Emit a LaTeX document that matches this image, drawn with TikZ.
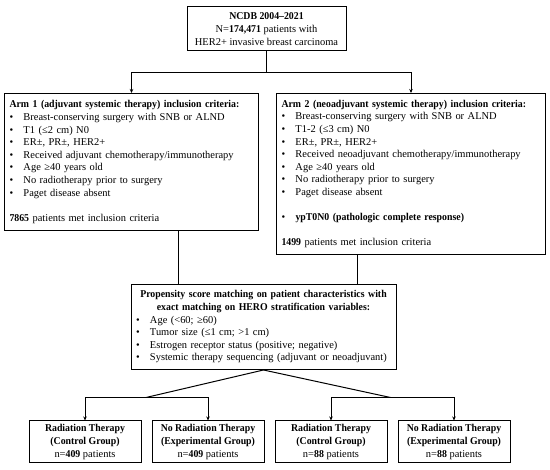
\documentclass[tikz,border=0pt]{standalone}
\usepackage{fontspec}
\setmainfont{Liberation Serif}[BoldFeatures={FakeStretch=0.94}]
\usepackage{tikz}
\usetikzlibrary{positioning,arrows.meta}

\newcommand{\bul}{\makebox[14pt][l]{\textbullet}}

\begin{document}
\begin{tikzpicture}[x=1pt, y=-1pt,
    box/.style={rectangle, draw, line width=1pt, inner ysep=0pt, inner xsep=5pt, font=\fontsize{10.45}{12.6}\selectfont},
    crit/.style={box, text width=#1, align=left},
    group/.style={box, minimum width=112pt, minimum height=42pt, align=center},
    line/.style={line width=1pt},
    arrow/.style={line, -{Stealth[length=4pt,width=3.5pt]}}]

    \useasboundingbox (0,0) rectangle (550,470);

    \node [box, minimum width=159pt, minimum height=44pt, align=center] (ncdb) at (266.5,29)
        {\textbf{NCDB 2004–2021}\\N=\textbf{174,471} patients with\\HER2+ invasive breast carcinoma};

    \node [crit=244pt, minimum height=137pt, anchor=north west] (arm1) at (4,93)
        {\textbf{Arm 1 (adjuvant systemic therapy) inclusion criteria:}\\
         \bul Breast-conserving surgery with SNB or ALND\\
         \bul T1 (≤2 cm) N0\\
         \bul ER±, PR±, HER2+\\
         \bul Received adjuvant chemotherapy/immunotherapy\\
         \bul Age ≥40 years old\\
         \bul No radiotherapy prior to surgery\\
         \bul Paget disease absent\\[12.6pt]
         \textbf{7865} patients met inclusion criteria};
    \node [crit=259pt, minimum height=161pt, right=17pt of arm1.north east, anchor=north west] (arm2)
        {\textbf{Arm 2 (neoadjuvant systemic therapy) inclusion criteria:}\\
         \bul Breast-conserving surgery with SNB or ALND\\
         \bul T1-2 (≤3 cm) N0\\
         \bul ER±, PR±, HER2+\\
         \bul Received neoadjuvant chemotherapy/immunotherapy\\
         \bul Age ≥40 years old\\
         \bul No radiotherapy prior to surgery\\
         \bul Paget disease absent\\[12.6pt]
         \bul\textbf{ypT0N0 (pathologic complete response)}\\[12.6pt]
         \textbf{1499} patients met inclusion criteria};

    \node [crit=261pt, inner xsep=2pt, minimum height=85pt] (psm) at (263.5,327)
        {{\centering\bfseries Propensity score matching on patient characteristics with\\
          exact matching on HERO stratification variables:\par}
         \hspace*{3pt}\bul Age (<60; ≥60)\\
         \hspace*{3pt}\bul Tumor size (≤1 cm; >1 cm)\\
         \hspace*{3pt}\bul Estrogen receptor status (positive; negative)\\
         \hspace*{3pt}\bul Systemic therapy sequencing (adjuvant or neoadjuvant)};

    \node [group] (rt1) at (85,442) {\textbf{Radiation Therapy}\\\textbf{(Control Group)}\\n=\textbf{409} patients};
    \node [group, right=10pt of rt1] (nrt1) {\textbf{No Radiation Therapy}\\\textbf{(Experimental Group)}\\n=\textbf{409} patients};
    \node [group, right=10pt of nrt1] (rt2) {\textbf{Radiation Therapy}\\\textbf{(Control Group)}\\n=\textbf{88} patients};
    \node [group, right=10pt of rt2] (nrt2) {\textbf{No Radiation Therapy}\\\textbf{(Experimental Group)}\\n=\textbf{88} patients};

    % top split
    \draw [line] (ncdb.south) -- ++(0,21) coordinate (split);
    \draw [arrow] (split) -| (arm1.north);
    \draw [arrow] (split) -| (arm2.north);

    % arms into matching
    \coordinate (a1) at ([xshift=47pt]arm1.south);
    \coordinate (a2) at ([xshift=-53.5pt]arm2.south);
    \draw [line] (a1) -- (a1 |- psm.north);
    \draw [line] (a2) -- (a2 |- psm.north);

    % matched groups
    \draw [line] (psm.south) -- ++(-117.5,27.5) coordinate (jl);
    \draw [line] (psm.south) -- ++(127,27.5) coordinate (jr);
    \draw [arrow] (jl) -| (rt1.north);
    \draw [arrow] (jl) -| (nrt1.north);
    \draw [arrow] (jr) -| (rt2.north);
    \draw [arrow] (jr) -| (nrt2.north);
\end{tikzpicture}
\end{document}
